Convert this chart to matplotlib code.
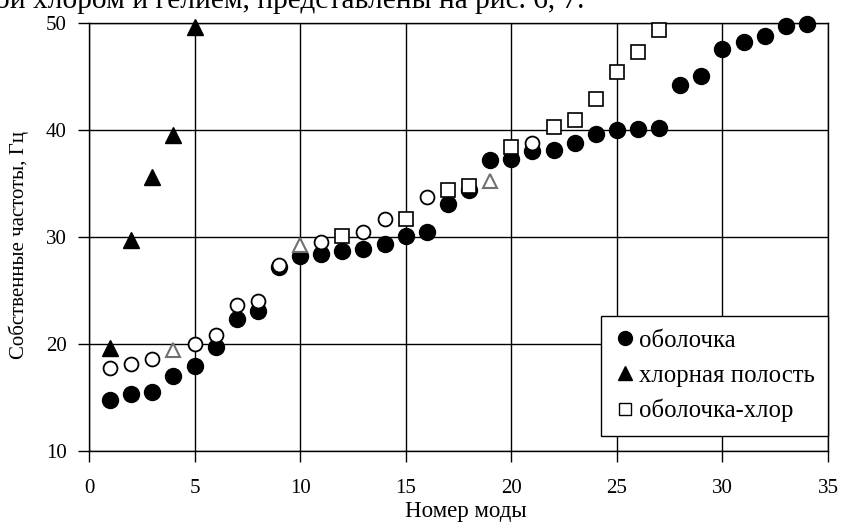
import matplotlib
matplotlib.use("Agg")
import matplotlib.pyplot as plt
from matplotlib.lines import Line2D

plt.rcParams['font.family'] = ['Liberation Serif', 'DejaVu Serif']

# оболочка (filled circles)
shell_x = list(range(1, 35))
shell_y = [14.8, 15.3, 15.5, 17.0, 17.9, 19.7, 22.3, 23.1, 27.2, 28.2,
           28.4, 28.7, 28.9, 29.3, 30.1, 30.5, 33.1, 34.4, 37.2, 37.3,
           38.0, 38.1, 38.8, 39.6, 40.0, 40.1, 40.2, 44.2, 45.0, 47.6,
           48.2, 48.8, 49.7, 49.9]

# хлорная полость (filled triangles)
cav_x = [1, 2, 3, 4, 5]
cav_y = [19.6, 29.7, 35.6, 39.5, 49.6]

# оболочка-хлор (open squares)
sq_x = [12, 15, 17, 18, 20, 22, 23, 24, 25, 26, 27]
sq_y = [30.1, 31.65, 34.4, 34.8, 38.45, 40.25, 40.9, 42.9, 45.45, 47.25, 49.35]

# unlabeled open circles
oc_x = [1, 2, 3, 5, 6, 7, 8, 9, 11, 13, 14, 16, 21]
oc_y = [17.75, 18.1, 18.6, 20.0, 20.85, 23.65, 24.0, 27.35, 29.55, 30.5,
        31.65, 33.75, 38.75]

# unlabeled open triangles
ot_x = [4, 10, 19]
ot_y = [19.4, 29.25, 35.25]

legend_labels = ['оболочка', 'хлорная полость', 'оболочка-хлор']

fig = plt.figure(figsize=(8.43, 5.25), dpi=100)
ax = fig.add_axes([89/843, (525-451)/525, (828-89)/843, (451-23)/525])

ax.set_xlim(0, 35)
ax.set_ylim(10, 50)
ax.set_xticks(range(0, 36, 5))
ax.set_yticks(range(10, 51, 10))
ax.grid(True, color='black', linewidth=1.0)
ax.set_axisbelow(True)
for s in ax.spines.values():
    s.set_color('black')
    s.set_linewidth(1.0)
ax.tick_params(direction='out', length=8, width=1.0, color='black',
               labelsize=15)
ax.tick_params(axis='x', pad=12)
ax.tick_params(axis='y', pad=8)

ax.plot(shell_x, shell_y, 'o', ms=11.5, color='black', mec='black', zorder=3, clip_on=False)
ax.plot(cav_x, cav_y, '^', ms=11.5, color='black', mec='black', zorder=3, clip_on=False)
ax.plot(ot_x, ot_y, '^', ms=10.5, mfc='white', mec='#707070', mew=1.5, zorder=4, clip_on=False)
ax.plot(oc_x, oc_y, 'o', ms=10, mfc='white', mec='black', mew=1.3, zorder=4, clip_on=False)
ax.plot(sq_x, sq_y, 's', ms=10, mfc='white', mec='black', mew=1.2, zorder=4, clip_on=False)

ax.set_xlabel('Номер моды', fontsize=16.5, va='center')
ax.xaxis.set_label_coords((466-89)/739, (451-512)/428)
ax.set_ylabel('Собственные частоты, Гц', fontsize=15, va='center')
ax.yaxis.set_label_coords((19-89)/739, (451-245)/428)

handles = [
    Line2D([], [], ls='none', marker='o', ms=10, color='black'),
    Line2D([], [], ls='none', marker='^', ms=10, color='black'),
    Line2D([], [], ls='none', marker='s', ms=9, mfc='white', mec='black', mew=1),
]
leg = ax.legend(handles, legend_labels, loc='lower right',
                bbox_to_anchor=(1.0, (451-436)/428), fontsize=17.8,
                frameon=True, fancybox=False, framealpha=1, edgecolor='black',
                handlelength=0.88, handletextpad=0.1, labelspacing=0.5,
                borderpad=0.55, borderaxespad=0)
leg.get_frame().set_linewidth(1.0)
leg.set_zorder(10)

fig.text(-0.006, 1 - 8/525, 'ой хлором и гелием, представлены на рис. 6, 7.',
         fontsize=21.2, va='baseline', ha='left')

fig.savefig('out.png', dpi=100)
